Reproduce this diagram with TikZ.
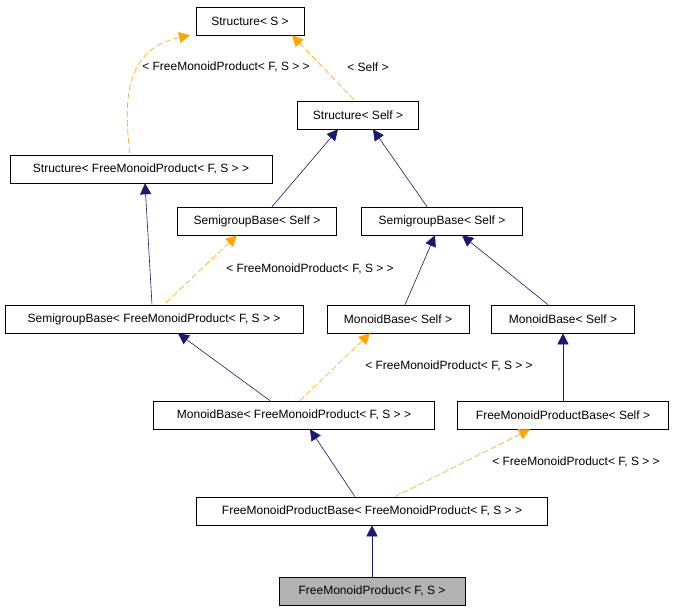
\documentclass[tikz,border=0pt]{standalone}
\usepackage{fontspec}
\setmainfont{Liberation Sans}
\usetikzlibrary{arrows.meta}
\definecolor{navy}{RGB}{25,25,112}
\definecolor{tmplorange}{RGB}{255,165,0}
\tikzset{
  cls/.style={draw,semithick,minimum height=28pt,inner sep=0pt,font=\fontsize{12}{14}\selectfont},
  inh/.style={draw=navy,semithick,{Triangle[length=11pt,width=11pt,fill=navy]}-},
  tmpl/.style={draw=tmplorange,semithick,dash pattern=on 6pt off 3pt,{Triangle[length=11pt,width=11pt,fill=tmplorange]}-},
  lbl/.style={font=\fontsize{12}{14}\selectfont,inner sep=1pt}
}
\begin{document}
\begin{tikzpicture}[x=1pt,y=-1pt]
  \useasboundingbox (0,0) rectangle (676,611);
  \node[cls,minimum width=108pt] (structS) at (250,21) {Structure< S >};
  \node[cls,minimum width=121pt] (structSelf) at (358,115) {Structure< Self >};
  \node[cls,minimum width=262pt] (structFMP) at (141,169) {Structure< FreeMonoidProduct< F, S > >};
  \node[cls,minimum width=159pt] (semiSelfA) at (257,221) {SemigroupBase< Self >};
  \node[cls,minimum width=161pt] (semiSelfB) at (442,221) {SemigroupBase< Self >};
  \node[cls,minimum width=298pt] (semiFMP) at (154,319) {SemigroupBase< FreeMonoidProduct< F, S > >};
  \node[cls,minimum width=142pt] (monSelfA) at (398,319) {MonoidBase< Self >};
  \node[cls,minimum width=143pt] (monSelfB) at (563,319) {MonoidBase< Self >};
  \node[cls,minimum width=281pt] (monFMP) at (294,415) {MonoidBase< FreeMonoidProduct< F, S > >};
  \node[cls,minimum width=211pt] (fmpbSelf) at (563,415) {FreeMonoidProductBase< Self >};
  \node[cls,minimum width=351pt] (fmpbFMP) at (372,511) {FreeMonoidProductBase< FreeMonoidProduct< F, S > >};
  \node[cls,minimum width=186pt,fill=black!30] (fmp) at (372,591) {FreeMonoidProduct< F, S >};

  \node[lbl] (lblA) at (226,67) {< FreeMonoidProduct< F, S > >};
  \node[lbl] (lblB) at (368,67) {< Self >};
  \node[lbl] (lblC) at (310,269) {< FreeMonoidProduct< F, S > >};
  \node[lbl] (lblD) at (449,366) {< FreeMonoidProduct< F, S > >};
  \node[lbl] (lblE) at (576,462) {< FreeMonoidProduct< F, S > >};

  \draw[tmpl] ([xshift=-60pt]structS.south) .. controls (120,50) and (125,110) .. ([xshift=-11pt]structFMP.north);
  \draw[tmpl] ([xshift=42pt]structS.south) -- ([xshift=-3pt]structSelf.north);
  \draw[inh] ([xshift=-20pt]structSelf.south) -- ([xshift=15pt]semiSelfA.north);
  \draw[inh] ([xshift=15pt]structSelf.south) -- ([xshift=-15pt]semiSelfB.north);
  \draw[inh] ([xshift=4pt]structFMP.south) -- ([xshift=-2pt]semiFMP.north);
  \draw[tmpl] ([xshift=-20pt]semiSelfA.south) -- ([xshift=10pt]semiFMP.north);
  \draw[inh] ([xshift=-7pt]semiSelfB.south) -- ([xshift=7pt]monSelfA.north);
  \draw[inh] ([xshift=20pt]semiSelfB.south) -- ([xshift=-15pt]monSelfB.north);
  \draw[inh] ([xshift=24pt]semiFMP.south) -- ([xshift=-24pt]monFMP.north);
  \draw[tmpl] ([xshift=-28pt]monSelfA.south) -- ([xshift=6pt]monFMP.north);
  \draw[inh] (monSelfB) -- (fmpbSelf);
  \draw[inh] ([xshift=16pt]monFMP.south) -- ([xshift=-17pt]fmpbFMP.north);
  \draw[tmpl] ([xshift=-33pt]fmpbSelf.south) -- ([xshift=23pt]fmpbFMP.north);
  \draw[inh] (fmpbFMP) -- (fmp);
\end{tikzpicture}
\end{document}
